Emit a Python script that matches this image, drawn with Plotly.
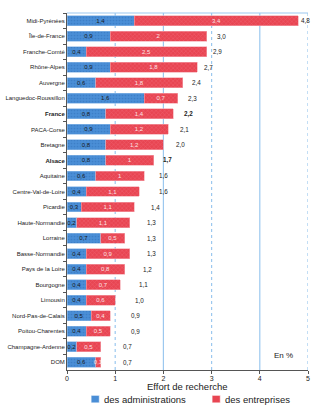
import plotly.graph_objects as go

# Regional research effort (% of GDP), split by funding sector
regions = [
    "Midi-Pyrénées", "Île-de-France", "Franche-Comté", "Rhône-Alpes", "Auvergne",
    "Languedoc-Roussillon", "France", "PACA-Corse", "Bretagne", "Alsace",
    "Aquitaine", "Centre-Val-de-Loire", "Picardie", "Haute-Normandie", "Lorraine",
    "Basse-Normandie", "Pays de la Loire", "Bourgogne", "Limousin",
    "Nord-Pas-de-Calais", "Poitou-Charentes", "Champagne-Ardenne", "DOM",
]
administrations = [1.4, 0.9, 0.4, 0.9, 0.6, 1.6, 0.8, 0.9, 0.8, 0.8, 0.6, 0.4,
                   0.3, 0.2, 0.7, 0.4, 0.4, 0.4, 0.4, 0.5, 0.4, 0.2, 0.6]
entreprises = [3.4, 2.0, 2.5, 1.8, 1.8, 0.7, 1.4, 1.2, 1.2, 1.0, 1.0, 1.1,
               1.1, 1.1, 0.5, 0.9, 0.8, 0.7, 0.6, 0.4, 0.5, 0.5, 0.1]
totals = [4.8, 3.0, 2.9, 2.7, 2.4, 2.3, 2.2, 2.1, 2.0, 1.7, 1.6, 1.6,
          1.4, 1.3, 1.3, 1.3, 1.2, 1.1, 1.0, 0.9, 0.9, 0.7, 0.7]
highlighted = ["France", "Alsace"]
x_ticks = [0, 1, 2, 3, 4, 5]
series_names = ["des administrations", "des entreprises"]

FONT = "Liberation Sans, Arial, sans-serif"
BLUE = "#4a8ed6"
RED = "#e84552"
SMALL = 6.0


def fr(v):
    return f"{v:g}".replace(".", ",")


def fr1(v):
    return f"{v:.1f}".replace(".", ",")


def cat_label(name):
    return f"<b>{name}</b>" if name in highlighted else name


y_labels = [cat_label(r) for r in regions]

fig = go.Figure()
fig.add_trace(go.Bar(
    y=y_labels, x=administrations, orientation="h", name=series_names[0],
    marker=dict(color=BLUE, line=dict(width=0.6, color="#8fbbe8"),
                pattern=dict(shape=".", fgcolor="#2f6fb8", bgcolor=BLUE, size=3, solidity=0.25)),
    text=[fr(v) for v in administrations], textposition="inside",
    insidetextanchor="middle", textangle=0,
    textfont=dict(size=SMALL, color="#1a1a1a", family=FONT),
    width=0.64,
))
fig.add_trace(go.Bar(
    y=y_labels, x=entreprises, orientation="h", name=series_names[1],
    marker=dict(color=RED, line=dict(width=0.6, color="#f4a3ab"),
                pattern=dict(shape="x", fgcolor="#f27a86", bgcolor=RED, size=3, solidity=0.3)),
    text=[fr(v) for v in entreprises], textposition="inside",
    insidetextanchor="middle", textangle=0,
    textfont=dict(size=SMALL, color="#fbe3e5", family=FONT),
    width=0.64,
))

# Total labels to the right of each bar
for name, lab, t, a, e in zip(regions, y_labels, totals, administrations, entreprises):
    end = a + e
    xpos = max(0.85 * t + 0.65, end + 0.15)
    txt = fr1(t)
    if name in highlighted:
        txt = f"<b>{txt}</b>"
    fig.add_annotation(x=xpos, y=lab, text=txt, showarrow=False,
                       xanchor="center", yanchor="middle",
                       font=dict(size=6.3, color="#222", family=FONT))

# Vertical guide lines: dotted at odd values, solid at even values
shapes = []
for v in [1, 2, 3, 4, 5]:
    shapes.append(dict(type="line", xref="x", yref="paper", x0=v, x1=v, y0=0, y1=1,
                       line=dict(color="#9cc8ef", width=1.2,
                                 dash="dot" if v % 2 else "solid"),
                       layer="below"))
shapes.append(dict(type="line", xref="paper", yref="paper", x0=0, x1=1, y0=1, y1=1,
                   line=dict(color="#9cc8ef", width=1.2), layer="below"))

# Legend drawn below the axis title: colour key squares plus labels
legend_keys = [(0.100, 0.134, BLUE), (0.602, 0.636, RED)]
for (x0, x1, col) in legend_keys:
    shapes.append(dict(type="rect", xref="paper", yref="paper", x0=x0, x1=x1,
                       y0=-0.092, y1=-0.071, fillcolor=col,
                       line=dict(width=0.6, color="#ffffff")))
fig.update_layout(shapes=shapes)

for (x0, x1, col), nm in zip(legend_keys, series_names):
    fig.add_annotation(xref="paper", yref="paper", x=x1 + 0.01, y=-0.082, text=nm,
                       showarrow=False, xanchor="left", yanchor="middle",
                       font=dict(size=9.5, color="#222", family=FONT))

fig.add_annotation(xref="paper", yref="paper", x=0.946, y=0.040, text="En %",
                   showarrow=False, xanchor="right", yanchor="middle",
                   font=dict(size=8, color="#222", family=FONT))
fig.add_annotation(xref="paper", yref="paper", x=0.5, y=-0.046, text="Effort de recherche",
                   showarrow=False, xanchor="center", yanchor="middle",
                   font=dict(size=9.5, color="#222", family=FONT))

fig.update_layout(
    barmode="stack",
    showlegend=False,
    width=326, height=409,
    margin=dict(l=67, r=18, t=13, b=39),
    paper_bgcolor="white", plot_bgcolor="white",
    font=dict(family=FONT, color="#222"),
    uniformtext=dict(mode="show", minsize=SMALL),
    xaxis=dict(range=[0, 5], tickvals=x_ticks, ticktext=[str(v) for v in x_ticks],
               showgrid=False, zeroline=False, showline=True, linecolor="#555",
               linewidth=1, ticks="outside", ticklen=3, tickcolor="#555",
               automargin=False, ticklabelstandoff=-1,
               tickfont=dict(size=7, family=FONT, color="#222")),
    yaxis=dict(categoryorder="array", categoryarray=y_labels, autorange="reversed",
               showgrid=False, showline=True, linecolor="#555", linewidth=1,
               ticks="outside", ticklen=3, tickcolor="#555", tickson="boundaries",
               automargin=False,
               tickfont=dict(size=SMALL, family=FONT, color="#222")),
)

fig.write_html("out.html")
